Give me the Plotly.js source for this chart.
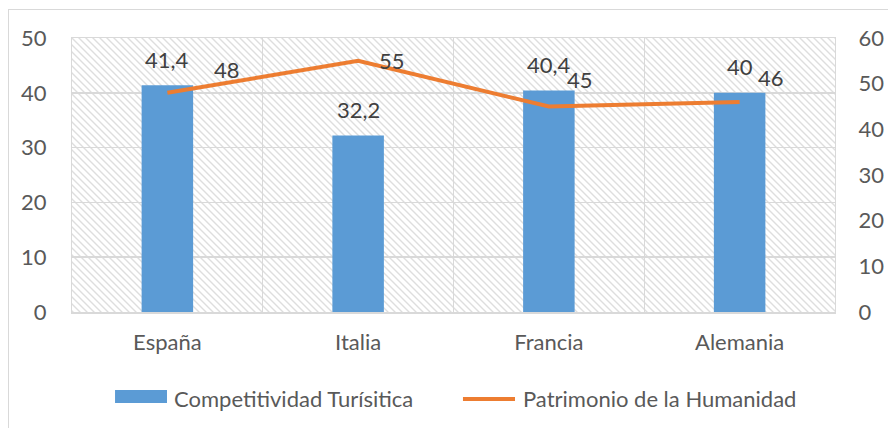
<!DOCTYPE html>
<html>
<head>
<meta charset="utf-8">
<script src="https://cdn.plot.ly/plotly-3.0.1.min.js"></script>
<style>
  html, body { margin: 0; padding: 0; background: #ffffff; }
  #frame { position: absolute; left: 8px; top: 9px; right: -2px; bottom: -2px; border-left: 1px solid #d9d9d9; border-top: 1px solid #d9d9d9; }
  #chart { position: absolute; left: 0; top: 0; width: 888px; height: 428px; }
</style>
</head>
<body>
<div id="frame"></div>
<div id="chart"></div>
<script>
// ---- data ----
const categories = ["España", "Italia", "Francia", "Alemania"];
const competitividad = [41.4, 32.2, 40.4, 40];
const patrimonio = [48, 55, 45, 46];
const barName = "Competitividad Turísitica";
const lineName = "Patrimonio de la Humanidad";
const leftTicks = [0, 10, 20, 30, 40, 50];
const rightTicks = [0, 10, 20, 30, 40, 50, 60];

// ---- styles ----
const BLUE = "#5B9BD5", ORANGE = "#ED7D31", GRID = "#d9d9d9", TXT = "#595959", LBL = "#404040";
const FONT = "Lato, 'Open Sans', sans-serif";
const FS = 22;
const lineLabelShift = [[60, 23], [34, 0], [31, 27], [31, 24]];

const fmt = v => String(v).replace(".", ",");

const hatchSvg = '<svg xmlns="http://www.w3.org/2000/svg" width="763" height="274" viewBox="0 0 763 274" preserveAspectRatio="none">' +
  '<defs><pattern id="h" width="7" height="7" patternUnits="userSpaceOnUse">' +
  '<path d="M0,0L7,7M-1,6L1,8M6,-1L8,1" stroke="#dedede" stroke-width="1.4"/></pattern></defs>' +
  '<rect width="763" height="274" fill="url(#h)"/></svg>';
const hatchUri = "data:image/svg+xml;base64," + btoa(hatchSvg);

const traces = [
  {
    type: "bar", x: categories, y: competitividad, name: barName,
    marker: { color: BLUE }, width: 0.27, hoverinfo: "x+y", showlegend: false
  },
  {
    type: "scatter", mode: "lines", x: categories, y: patrimonio, name: lineName,
    yaxis: "y2", line: { color: ORANGE, width: 4 }, showlegend: false
  }
];

const annotations = [];
categories.forEach((c, i) => {
  annotations.push({
    x: c, y: competitividad[i], xref: "x", yref: "y", text: fmt(competitividad[i]),
    showarrow: false, yanchor: "middle", yshift: 26,
    font: { family: FONT, size: FS, color: LBL }
  });
  annotations.push({
    x: c, y: patrimonio[i], xref: "x", yref: "y2", text: fmt(patrimonio[i]),
    showarrow: false, yanchor: "middle", xanchor: "center",
    xshift: lineLabelShift[i][0], yshift: lineLabelShift[i][1],
    font: { family: FONT, size: FS, color: LBL }
  });
});
// legend texts
annotations.push({ xref: "paper", yref: "paper", x: 0.1311, y: -0.3175, xanchor: "left", yanchor: "middle",
  text: barName, showarrow: false, font: { family: FONT, size: FS, color: TXT } });
annotations.push({ xref: "paper", yref: "paper", x: 0.5885, y: -0.3175, xanchor: "left", yanchor: "middle",
  text: lineName, showarrow: false, font: { family: FONT, size: FS, color: TXT } });

const shapes = [
  { type: "rect", xref: "paper", yref: "paper", x0: 0.0564, x1: 0.1245, y0: -0.332, y1: -0.2847,
    fillcolor: BLUE, line: { width: 0 } },
  { type: "line", xref: "paper", yref: "paper", x0: 0.5124, x1: 0.5806, y0: -0.3175, y1: -0.3175,
    line: { color: ORANGE, width: 4 } }
];

const layout = {
  width: 888, height: 428,
  margin: { l: 72, r: 53, t: 38, b: 116 },
  paper_bgcolor: "rgba(0,0,0,0)", plot_bgcolor: "rgba(0,0,0,0)",
  font: { family: FONT, size: FS, color: TXT },
  separators: ",.",
  showlegend: false,
  xaxis: {
    type: "category", tickson: "boundaries", ticks: "", showgrid: true, gridcolor: GRID, gridwidth: 1,
    showline: true, mirror: true, linecolor: GRID, linewidth: 1.5, ticklabelstandoff: 10,
    tickfont: { family: FONT, size: FS, color: TXT }, zeroline: false
  },
  yaxis: {
    range: [0, 50], tickvals: leftTicks, showgrid: true, gridcolor: GRID, gridwidth: 1.5,
    showline: true, linecolor: GRID, zeroline: false, ticks: "", ticklabelstandoff: 20,
    tickfont: { family: FONT, size: FS, color: TXT }
  },
  yaxis2: {
    range: [0, 60], tickvals: rightTicks, overlaying: "y", side: "right", showgrid: false,
    showline: true, linecolor: GRID, zeroline: false, ticks: "", ticklabelstandoff: 18,
    tickfont: { family: FONT, size: FS, color: TXT }
  },
  images: [{
    source: hatchUri, xref: "x domain", yref: "y domain", x: 0, y: 1, sizex: 1, sizey: 1,
    xanchor: "left", yanchor: "top", sizing: "stretch", layer: "below"
  }],
  annotations: annotations,
  shapes: shapes
};

Plotly.newPlot("chart", traces, layout, { displayModeBar: false, staticPlot: true });
</script>
</body>
</html>
